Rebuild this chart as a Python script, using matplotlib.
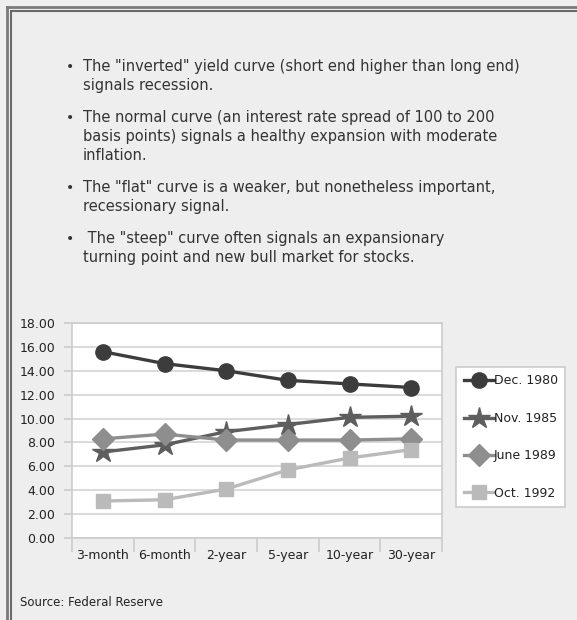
import matplotlib.pyplot as plt
from matplotlib.lines import Line2D

# Yield curve data (percent)
maturities = ['3-month', '6-month', '2-year', '5-year', '10-year', '30-year']
dec_1980 = [15.6, 14.6, 14.0, 13.2, 12.9, 12.6]
nov_1985 = [7.2, 7.8, 8.9, 9.5, 10.1, 10.2]
june_1989 = [8.3, 8.7, 8.2, 8.2, 8.2, 8.3]
oct_1992 = [3.1, 3.2, 4.1, 5.7, 6.7, 7.4]

bullets = [
    ['The "inverted" yield curve (short end higher than long end)', 'signals recession.'],
    ['The normal curve (an interest rate spread of 100 to 200',
     'basis points) signals a healthy expansion with moderate', 'inflation.'],
    ['The "flat" curve is a weaker, but nonetheless important,', 'recessionary signal.'],
    [' The "steep" curve often signals an expansionary',
     'turning point and new bull market for stocks.'],
]

font = 'DejaVu Sans'
bg = '#eeeeee'
W, H = 577, 620

fig = plt.figure(figsize=(W / 100, H / 100), dpi=100, facecolor=bg)

# double frame on left and top
for off, lw, col in [(6.5, 2.0, '#7a7a7a'), (11, 1.5, '#6a6a6a')]:
    fig.add_artist(Line2D([off / W, off / W], [0, 1 - off / H], color=col, lw=lw,
                          transform=fig.transFigure))
    fig.add_artist(Line2D([off / W, 1], [1 - off / H, 1 - off / H], color=col, lw=lw,
                          transform=fig.transFigure))

# bullet text, one line at a time
y = 71
for lines in bullets:
    fig.text(66 / W, 1 - y / H, '\u2022', fontsize=10, color='#333333', va='baseline')
    for ln in lines:
        fig.text(83 / W, 1 - y / H, ln, fontsize=10.5, color='#333333', va='baseline')
        y += 19
    y += 13

ax = fig.add_axes([72 / W, 82 / H, 370 / W, 215 / H])
ax.set_facecolor('white')
x = list(range(len(maturities)))
series = [
    ('Dec. 1980', dec_1980, '#3c3c3c', 'o', 11),
    ('Nov. 1985', nov_1985, '#5e5e5e', '*', 16),
    ('June 1989', june_1989, '#8e8e8e', 'D', 11),
    ('Oct. 1992', oct_1992, '#bababa', 's', 10),
]
for name, vals, col, m, ms in series:
    ax.plot(x, vals, color=col, lw=2.4, marker=m, markersize=ms, label=name,
            clip_on=False, zorder=3)

ax.set_xlim(-0.5, 5.5)
ax.set_ylim(0, 18)
ax.set_yticks(range(0, 19, 2))
ax.set_yticklabels([f'{v:.2f}' for v in range(0, 19, 2)], family=font,
                   fontsize=9, color='#222222')
ax.grid(axis='y', color='#d4d4d4', lw=1.2)
ax.set_axisbelow(True)
ax.set_xticks([i - 0.5 for i in range(7)])
ax.set_xticklabels([])
ax.set_xticks(x, minor=True)
ax.set_xticklabels(maturities, minor=True, family=font, fontsize=9, color='#222222')
ax.tick_params(axis='x', which='major', length=10, color='#cccccc', width=1.2)
ax.tick_params(axis='x', which='minor', length=0, pad=8)
ax.tick_params(axis='y', length=6, color='#cccccc', width=1.2, pad=6)
for s in ax.spines.values():
    s.set_color('#cccccc')
    s.set_linewidth(1.2)

leg = ax.legend(loc='upper left', bbox_to_anchor=(456 / W, 1 - 367 / H),
                bbox_transform=fig.transFigure, frameon=True, fancybox=False,
                edgecolor='#cccccc', facecolor='white', framealpha=1,
                prop={'family': font, 'size': 9}, handlelength=2.4,
                handletextpad=0.0, labelspacing=1.95, borderpad=0.6,
                borderaxespad=0)
leg.get_frame().set_linewidth(1.2)
for t in leg.get_texts():
    t.set_color('#222222')

fig.text(20 / W, 1 - 603 / H, 'Source: Federal Reserve', family=font, fontsize=8.5,
         color='#222222', va='center')

fig.savefig('out.png', dpi=100, facecolor=bg)
